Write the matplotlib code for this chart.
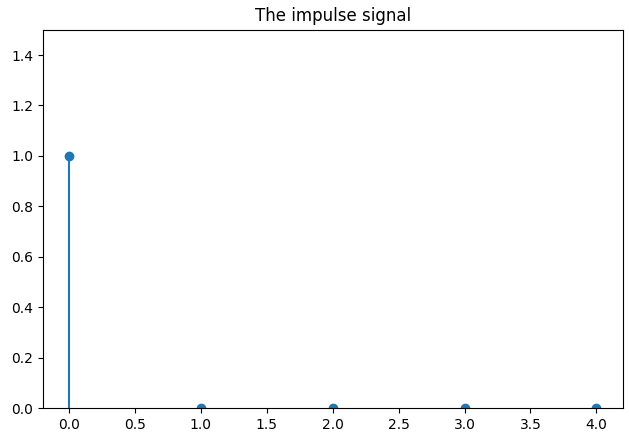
import matplotlib
matplotlib.use("Agg")
import matplotlib.pyplot as plt

n = [0, 1, 2, 3, 4]
impulse = [1, 0, 0, 0, 0]

fig = plt.figure(figsize=(6.29, 4.38), dpi=100)
ax = fig.add_axes([0.068, 0.068, 0.922, 0.864])
markers, stems, base = ax.stem(n, impulse)
base.set_visible(False)
ax.set_ylim(0, 1.5)
ax.set_title("The impulse signal")
fig.savefig("out.png", dpi=100)
